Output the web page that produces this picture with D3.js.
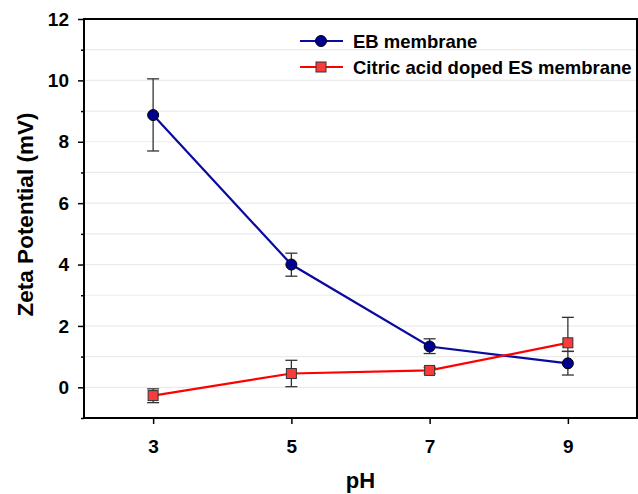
<!DOCTYPE html>
<html><head><meta charset="utf-8">
<script src="https://cdn.jsdelivr.net/npm/d3@7"></script>
<style>body{margin:0;background:#fff}svg{display:block}</style>
</head><body>
<script>
const pH = [3, 5, 7, 9];
const ebValues = [8.87, 4.0, 1.33, 0.78];
const ebUpper = [10.05, 4.37, 1.58, 1.17];
const ebLower = [7.7, 3.62, 1.1, 0.4];
const caValues = [-0.27, 0.45, 0.55, 1.45];
const caUpper = [-0.05, 0.88, 0.65, 2.28];
const caLower = [-0.5, 0.02, 0.45, 1.17];
const xTicks = [3, 5, 7, 9];
const yTicks = [0, 2, 4, 6, 8, 10, 12];
const yMinor = [-1, 1, 3, 5, 7, 9, 11];
const seriesNames = ["EB membrane", "Citric acid doped ES membrane"];

const W = 638, H = 494;
const m = {left: 84, right: 1, top: 19, bottom: 76};
const svg = d3.select("body").append("svg").attr("width", W).attr("height", H);
const x = d3.scaleLinear().domain([2, 10]).range([m.left, W - m.right]);
const y = d3.scaleLinear().domain([-1, 12]).range([H - m.bottom, m.top]);
const font = "'Liberation Sans', Arial, sans-serif";

// gridlines
svg.append("g").selectAll("line").data(d3.range(-1, 13)).join("line")
  .attr("x1", x(2)).attr("x2", x(10)).attr("y1", d => y(d)).attr("y2", d => y(d))
  .attr("stroke", "#ebebeb").attr("stroke-width", 1.2);

// axes
const yAxis = svg.append("g").attr("transform", `translate(${x(2)},0)`)
  .call(d3.axisLeft(y).tickValues(yTicks).tickSize(6).tickPadding(9).tickFormat(d3.format("d")));
const yAxisMinor = svg.append("g").attr("transform", `translate(${x(2)},0)`)
  .call(d3.axisLeft(y).tickValues(yMinor).tickSize(3).tickFormat(""));
const xAxis = svg.append("g").attr("transform", `translate(0,${y(-1)})`)
  .call(d3.axisBottom(x).tickValues(xTicks).tickSize(6).tickPadding(16).tickFormat(d3.format("d")));
[yAxis, yAxisMinor, xAxis].forEach(g => {
  g.select(".domain").remove();
  g.selectAll("line").attr("stroke", "#000").attr("stroke-width", 1.5);
  g.selectAll("text").attr("font-family", font).attr("font-weight", "bold")
    .attr("font-size", 19).attr("fill", "#000");
});

// frame
svg.append("rect").attr("x", x(2)).attr("y", y(12)).attr("width", x(10) - x(2)).attr("height", y(-1) - y(12))
  .attr("fill", "none").attr("stroke", "#000").attr("stroke-width", 2);

// titles
svg.append("text").attr("x", (x(2) + x(10)) / 2).attr("y", 488).attr("text-anchor", "middle")
  .attr("font-family", font).attr("font-weight", "bold").attr("font-size", 22).text("pH");
svg.append("text").attr("transform", `translate(33,${(y(-1) + y(12)) / 2 - 4}) rotate(-90)`)
  .attr("text-anchor", "middle").attr("font-family", font).attr("font-weight", "bold")
  .attr("font-size", 22.5).text("Zeta Potential (mV)");

const series = [
  {name: seriesNames[0], v: ebValues, up: ebUpper, lo: ebLower, line: "#0a0aa0", fill: "#000090", shape: "circle"},
  {name: seriesNames[1], v: caValues, up: caUpper, lo: caLower, line: "#ff0000", fill: "#f83c3c", shape: "square"}
];

const line = d3.line().x(d => x(d[0])).y(d => y(d[1]));
function marker(g, s, cx, cy) {
  if (s.shape === "circle") {
    g.append("circle").attr("cx", cx).attr("cy", cy).attr("r", 5.5)
      .attr("fill", s.fill).attr("stroke", "#000").attr("stroke-width", 1);
  } else {
    g.append("rect").attr("x", cx - 5).attr("y", cy - 5).attr("width", 10).attr("height", 10)
      .attr("fill", s.fill).attr("stroke", "#333").attr("stroke-width", 1);
  }
}

series.forEach(s => {
  const g = svg.append("g");
  pH.forEach((p, i) => {
    const cx = x(p);
    g.append("line").attr("x1", cx).attr("x2", cx).attr("y1", y(s.up[i])).attr("y2", y(s.lo[i]))
      .attr("stroke", "#333").attr("stroke-width", 1.3);
    [s.up[i], s.lo[i]].forEach(e => g.append("line").attr("x1", cx - 6).attr("x2", cx + 6)
      .attr("y1", y(e)).attr("y2", y(e)).attr("stroke", "#333").attr("stroke-width", 1.3));
  });
  g.append("path").datum(pH.map((p, i) => [p, s.v[i]])).attr("d", line)
    .attr("fill", "none").attr("stroke", s.line).attr("stroke-width", 2.2);
  pH.forEach((p, i) => marker(g, s, x(p), y(s.v[i])));
});

// legend
series.forEach((s, i) => {
  const ly = 41 + i * 26;
  const g = svg.append("g");
  g.append("line").attr("x1", 300).attr("x2", 343).attr("y1", ly).attr("y2", ly)
    .attr("stroke", s.line).attr("stroke-width", 2.2);
  marker(g, s, 321, ly);
  g.append("text").attr("x", 353).attr("y", ly + 6.5).attr("font-family", font)
    .attr("font-weight", "bold").attr("font-size", 18.5).text(s.name);
});
</script>
</body></html>
